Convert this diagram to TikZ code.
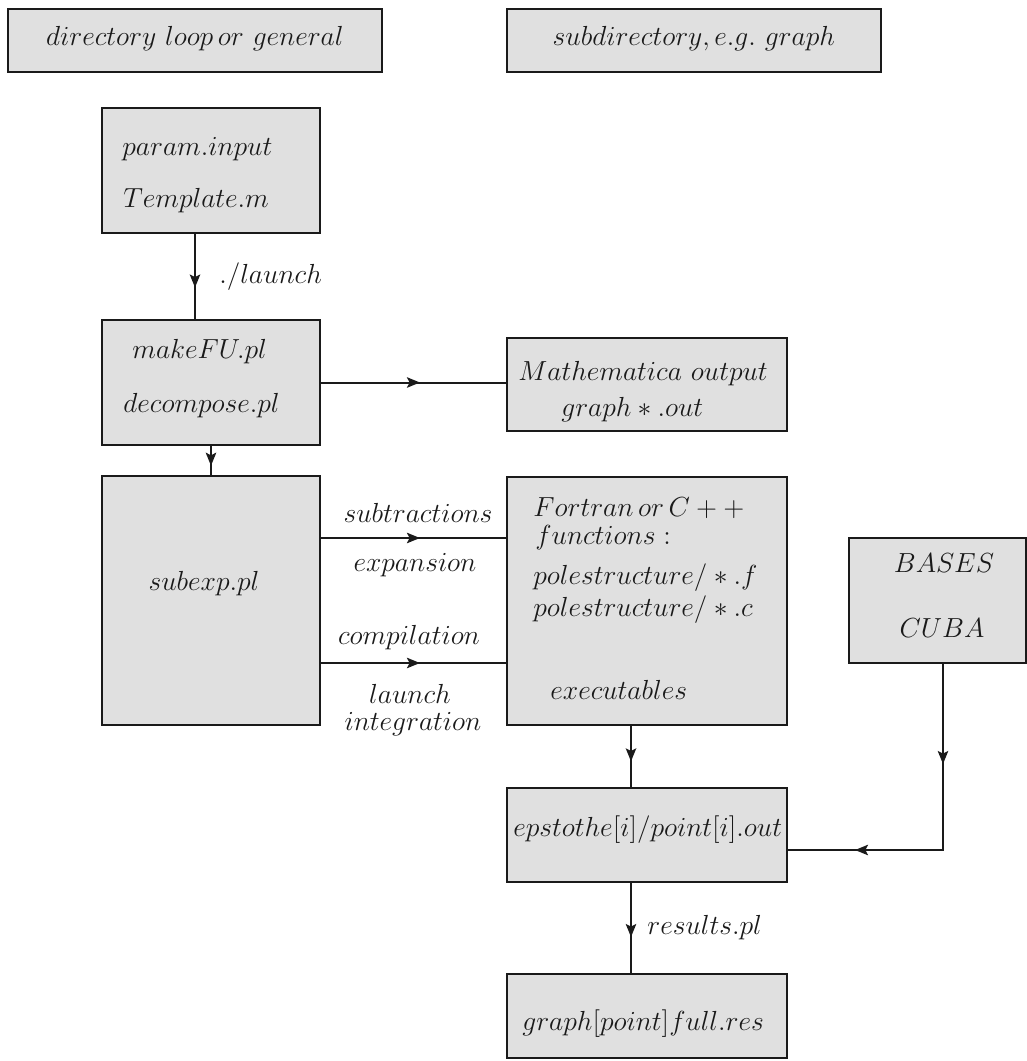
\RequirePackage{fix-cm}
\documentclass[tikz,border=0pt]{standalone}
\usetikzlibrary{arrows.meta,decorations.markings,fit}
\definecolor{boxgray}{HTML}{E0E0E0}
\definecolor{ink}{HTML}{1A1A1A}
\begin{document}
\begin{tikzpicture}[x=0.5pt,y=-0.5pt,
  every node/.style={font=\fontsize{13.8}{16}\selectfont, text=ink},
  box/.style={draw=ink, line width=1pt, fill=boxgray, inner sep=0pt, rectangle},
  txt/.style={inner sep=0pt, anchor=mid west},
  ctxt/.style={inner sep=0pt, anchor=mid},
  conn/.style={draw=ink, line width=1pt},
  tipshape/.style={-{Stealth[length=6.5pt,width=5.2pt,inset=1.3pt]}},
  midtip/.style={postaction={decorate}, decoration={markings, mark=at position #1 with {\arrow{Stealth[length=6.5pt,width=5.2pt,inset=1.3pt]}}}},
  twotips/.style 2 args={postaction={decorate}, decoration={markings,
     mark=at position #1 with {\arrow{Stealth[length=6.5pt,width=5.2pt,inset=1.3pt]}},
     mark=at position #2 with {\arrow{Stealth[length=6.5pt,width=5.2pt,inset=1.3pt]}}}},
]
\useasboundingbox (0,0) rectangle (1027,1061);

% boxes
\node[box, fit={(8,9)(382,72)}] (dir) {};
\node[box, fit={(507,9)(881,72)}] (sub) {};
\node[box, fit={(102,108)(320,233)}] (param) {};
\node[box, fit={(102,320)(320,445)}] (make) {};
\node[box, fit={(507,338)(787,431)}] (math) {};
\node[box, fit={(102,476)(320,725)}] (subexp) {};
\node[box, fit={(507,477)(787,725)}] (fortran) {};
\node[box, fit={(849,538)(1026,663)}] (bases) {};
\node[box, fit={(507,788)(787,882)}] (eps) {};
\node[box, fit={(507,974)(787,1058)}] (graph) {};

% connectors
\path[conn, midtip=0.63] ([xshift=-8pt]param.south) -- ([xshift=-8pt]param.south |- make.north);
\path[conn, midtip=0.68] (make.south) -- (subexp.north);
\path[conn, midtip=0.535] (make.east) -- (make.east -| math.west);
\path[conn, midtip=0.535] ([yshift=31.25pt]subexp.east) -- ([yshift=31.25pt]subexp.east -| fortran.west);
\path[conn, midtip=0.535] ([yshift=-31.25pt]subexp.east) -- ([yshift=-31.25pt]subexp.east -| fortran.west);
\path[conn, midtip=0.58] ([xshift=-8pt]fortran.south) -- ([xshift=-8pt]fortran.south |- eps.north);
\path[conn, midtip=0.6] ([xshift=-8pt]eps.south) -- ([xshift=-8pt]eps.south |- graph.north);
\coordinate (bturn) at (943,850);
\path[conn, twotips={50pt}{137pt}] (bases.south -| bturn) -- (bturn) -- (bturn -| eps.east);

% texts
\node[ctxt] (tdir) at (195,41) {$directory\ loop\,or\ general$};
\node[ctxt] (tsub) at (694,41) {$subdirectory,e.g.\ graph$};
\node[txt] (tparam) at (122,151) {$param.input$};
\node[txt] (ttempl) at (123,203) {$Template.m$};
\node[txt] (tlaunch) at (219,279) {$./launch$};
\node[txt] (tmake) at (132,354) {$makeFU.pl$};
\node[txt] (tdecomp) at (123,408) {$decompose.pl$};
\node[txt] (tmath) at (518,376) {$Mathematica\ output$};
\node[txt] (tgout) at (561,412) {$graph*.out$};
\node[ctxt] (tsubexp) at (204,586) {$subexp.pl$};
\node[ctxt] (tsubtr) at (418,518) {$subtractions$};
\node[ctxt] (texpan) at (415,567) {$expansion$};
\node[ctxt] (tcomp) at (409,640) {$compilation$};
\node[ctxt] (tlaunchb) at (410,699) {$launch$};
\node[ctxt] (tinteg) at (413,726) {$integration$};
\node[txt] (tfort) at (533,512) {$Fortran\,or\,C++$};
\node[txt] (tfunc) at (535,540) {$functions:$};
\node[txt] (tpolef) at (533,580) {$polestructure/*.f$};
\node[txt] (tpolec) at (533,612) {$polestructure/*.c$};
\node[txt] (texec) at (550,695) {$executables$};
\node[ctxt] (tbases) at (944,568) {$BASES$};
\node[ctxt] (tcuba) at (942,633) {$CUBA$};
\node[txt] (teps) at (513,832) {$epstothe[i]/point[i].out$};
\node[txt] (tres) at (647,930) {$results.pl$};
\node[txt] (tgraph) at (522,1026) {$graph[point]full.res$};
\end{tikzpicture}
\end{document}
